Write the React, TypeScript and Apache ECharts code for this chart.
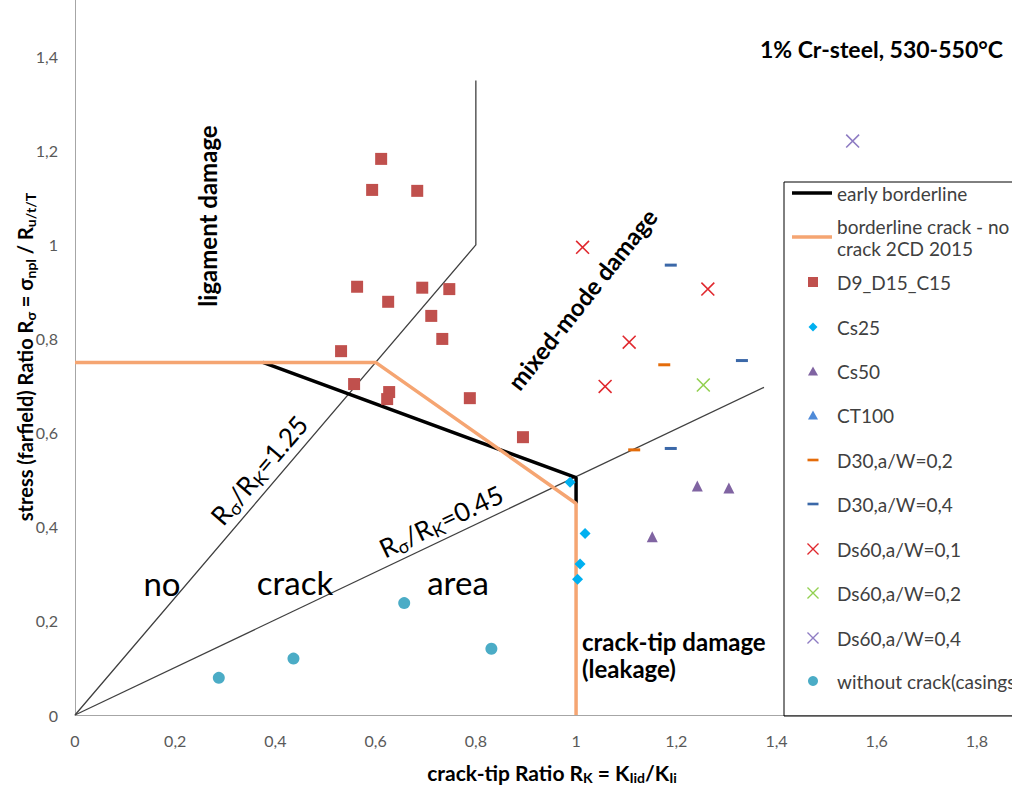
import React, { useEffect, useRef } from "react";
import * as echarts from "echarts";

// ---------------- data ----------------
const earlyBorderlineX = [0.375, 1.0, 1.0];
const earlyBorderlineY = [0.75, 0.505, 0.45];
const borderline2015X = [0, 0.6, 1.0, 1.0];
const borderline2015Y = [0.75, 0.75, 0.45, 0];
const ratio125X = [0, 0.8, 0.8];
const ratio125Y = [0, 1.0, 1.35];
const ratio045X = [0, 1.375];
const ratio045Y = [0, 0.697];

const d9X = [0.611, 0.593, 0.683, 0.563, 0.625, 0.693, 0.747, 0.711, 0.733, 0.531, 0.557, 0.627, 0.623, 0.788, 0.894];
const d9Y = [1.183, 1.117, 1.115, 0.911, 0.879, 0.909, 0.906, 0.849, 0.8, 0.774, 0.704, 0.687, 0.672, 0.674, 0.591];
const cs25X = [0.988, 1.018, 1.008, 1.003];
const cs25Y = [0.495, 0.386, 0.321, 0.289];
const cs50X = [1.242, 1.305, 1.152];
const cs50Y = [0.487, 0.483, 0.379];
const ct100X: number[] = [];
const ct100Y: number[] = [];
const d30w02X = [1.176, 1.116];
const d30w02Y = [0.745, 0.564];
const d30w04X = [1.189, 1.331, 1.189];
const d30w04Y = [0.957, 0.754, 0.567];
const ds60w01X = [1.013, 1.263, 1.106, 1.058];
const ds60w01Y = [0.995, 0.906, 0.793, 0.699];
const ds60w02X = [1.254];
const ds60w02Y = [0.702];
const ds60w04X = [1.552];
const ds60w04Y = [1.221];
const casingX = [0.287, 0.436, 0.657, 0.831];
const casingY = [0.079, 0.12, 0.238, 0.141];

const seriesNames = [
  "early borderline",
  "borderline crack - no crack 2CD 2015",
  "D9_D15_C15",
  "Cs25",
  "Cs50",
  "CT100",
  "D30,a/W=0,2",
  "D30,a/W=0,4",
  "Ds60,a/W=0,1",
  "Ds60,a/W=0,2",
  "Ds60,a/W=0,4",
  "without crack(casings)",
];

const X_MIN = 0;
const X_MAX = 1.87;
const Y_MIN = 0;
const Y_MAX = 1.521;
const TICK_STEP = 0.2;

// ---------------- styling ----------------
const FONT = "Lato, 'Noto Sans', sans-serif";
const DASH = "path://M0,0H10V2.4H0Z";
const CROSS =
  "path://M0,0.8L0.8,0L10,9.2L9.2,10Z M0.8,10L0,9.2L9.2,0L10,0.8Z";

const zip = (xs: number[], ys: number[]) => xs.map((x, i) => [x, ys[i]]);
const fmt = (v: number) => String(Math.round(v * 10) / 10).replace(".", ",");

type ScatterDef = {
  name: string;
  xs: number[];
  ys: number[];
  symbol: string;
  size: number | number[];
  color: string;
  legendW: number;
  legendH: number;
};

const scatterDefs: ScatterDef[] = [
  { name: seriesNames[2], xs: d9X, ys: d9Y, symbol: "rect", size: 12, color: "#C0504D", legendW: 10, legendH: 10 },
  { name: seriesNames[3], xs: cs25X, ys: cs25Y, symbol: "diamond", size: 11, color: "#00B0F0", legendW: 9, legendH: 9 },
  { name: seriesNames[4], xs: cs50X, ys: cs50Y, symbol: "triangle", size: 11, color: "#8064A2", legendW: 10, legendH: 9 },
  { name: seriesNames[5], xs: ct100X, ys: ct100Y, symbol: "triangle", size: 11, color: "#4E8AD8", legendW: 10, legendH: 9 },
  { name: seriesNames[6], xs: d30w02X, ys: d30w02Y, symbol: DASH, size: [12, 3], color: "#E46C0A", legendW: 11, legendH: 3 },
  { name: seriesNames[7], xs: d30w04X, ys: d30w04Y, symbol: DASH, size: [12, 3], color: "#3B68A8", legendW: 11, legendH: 3 },
  { name: seriesNames[8], xs: ds60w01X, ys: ds60w01Y, symbol: CROSS, size: 14, color: "#E0282E", legendW: 12, legendH: 12 },
  { name: seriesNames[9], xs: ds60w02X, ys: ds60w02Y, symbol: CROSS, size: 14, color: "#92D050", legendW: 12, legendH: 12 },
  { name: seriesNames[10], xs: ds60w04X, ys: ds60w04Y, symbol: CROSS, size: 14, color: "#8E7CC3", legendW: 12, legendH: 12 },
  { name: seriesNames[11], xs: casingX, ys: casingY, symbol: "circle", size: 12, color: "#4BACC6", legendW: 10, legendH: 10 },
];

const legendCenters = [193, 237, 282, 327, 371, 415, 460, 504, 549, 593, 638, 681];
const LEG_FONT = 19;
const LEG_LH = 22;
const LEG_ICON_CX = 813;
const LEG_TEXT_X = 837;

function buildLegends() {
  const legends: any[] = [];
  // line entries
  [0, 1].forEach((i) => {
    const two = i === 1;
    legends.push({
      data: [{ name: seriesNames[i], icon: "rect" }],
      left: LEG_TEXT_X - 45,
      top: two ? legendCenters[i] - 1.5 * LEG_LH : legendCenters[i] - LEG_LH / 2,
      padding: 0,
      itemWidth: 40,
      itemHeight: 3.5,
      selectedMode: false,
      formatter: two ? () => "borderline crack - no\ncrack 2CD 2015" : (n: string) => n,
      textStyle: {
        fontFamily: FONT,
        fontSize: LEG_FONT,
        lineHeight: LEG_LH,
        color: "#404040",
        padding: two ? [LEG_LH, 0, 0, 0] : 0,
      },
    });
  });
  scatterDefs.forEach((d, k) => {
    const i = k + 2;
    const left = LEG_ICON_CX - d.legendW / 2;
    const textStart = left + d.legendW + 5;
    legends.push({
      data: [{ name: d.name, icon: d.symbol }],
      left,
      top: legendCenters[i] - LEG_LH / 2,
      padding: 0,
      itemWidth: d.legendW,
      itemHeight: d.legendH,
      selectedMode: false,
      textStyle: {
        fontFamily: FONT,
        fontSize: LEG_FONT,
        lineHeight: LEG_LH,
        color: "#404040",
        padding: [0, 0, 0, LEG_TEXT_X - textStart],
      },
    });
  });
  return legends;
}

function richStyle(size: number, bold: boolean) {
  const sub = Math.round(size * 0.68);
  const lh = Math.round(size * 1.25);
  return {
    n: { fontFamily: FONT, fontSize: size, fontWeight: bold ? "bold" : "normal", fill: "#000", lineHeight: lh },
    s: {
      fontFamily: FONT,
      fontSize: sub,
      fontWeight: bold ? "bold" : "normal",
      fill: "#000",
      lineHeight: lh,
      padding: [Math.round(size * 0.5), 0, 0, 0],
    },
  };
}

const deg = (d: number) => (d * Math.PI) / 180;

function buildGraphic() {
  const plain = (text: string, x: number, y: number, size: number, bold: boolean, extra: any = {}) => ({
    type: "text",
    x,
    y,
    rotation: extra.rotation || 0,
    z: 100,
    style: {
      text,
      fontFamily: FONT,
      fontSize: size,
      fontWeight: bold ? "bold" : "normal",
      fill: "#000",
      align: extra.align || "center",
      verticalAlign: "middle",
    },
  });
  const rich = (text: string, x: number, y: number, size: number, bold: boolean, rotation = 0) => ({
    type: "text",
    x,
    y,
    rotation,
    z: 100,
    style: {
      text,
      rich: richStyle(size, bold),
      align: "center",
      verticalAlign: "middle",
    },
  });
  return [
    {
      type: "rect",
      z: 1,
      shape: { x: 784, y: 182, width: 260, height: 534 },
      style: { fill: "rgba(0,0,0,0)", stroke: "#000", lineWidth: 1 },
    },
    plain("1% Cr-steel, 530-550°C", 1003, 49, 23, true, { align: "right" }),
    plain("ligament damage", 207, 216, 24, true, { rotation: Math.PI / 2 }),
    plain("mixed-mode damage", 582, 299, 24, true, { rotation: deg(51.5) }),
    rich("{n|R}{s|σ}{n|/R}{s|K}{n|=1.25}", 259, 470, 26, false, deg(49.5)),
    rich("{n|R}{s|σ}{n|/R}{s|K}{n|=0.45}", 441, 521, 26, false, deg(25.4)),
    plain("no", 162, 583, 33, false),
    plain("crack", 295, 582, 33, false),
    plain("area", 458, 582, 33, false),
    plain("crack-tip damage", 582, 641, 24, true, { align: "left" }),
    plain("(leakage)", 582, 668, 24, true, { align: "left" }),
    rich("{n|crack-tip Ratio R}{s|K}{n| = K}{s|Iid}{n|/K}{s|Ii}", 552, 772, 21, true),
    rich(
      "{n|stress (farfield) Ratio R}{s|σ}{n| = σ}{s|npl}{n| / R}{s|u/t/T}",
      25,
      357,
      20,
      true,
      Math.PI / 2
    ),
  ];
}

function buildOption() {
  const lineSeries = [
    {
      name: seriesNames[0],
      type: "line",
      data: zip(earlyBorderlineX, earlyBorderlineY),
      symbol: "none",
      lineStyle: { color: "#000", width: 3.5 },
      itemStyle: { color: "#000" },
      z: 4,
    },
    {
      name: seriesNames[1],
      type: "line",
      data: zip(borderline2015X, borderline2015Y),
      symbol: "none",
      lineStyle: { color: "#F5A572", width: 3.5 },
      itemStyle: { color: "#F5A572" },
      z: 5,
    },
    {
      name: "ratio 1.25",
      type: "line",
      data: zip(ratio125X, ratio125Y),
      symbol: "none",
      lineStyle: { color: "#404040", width: 1.3 },
      z: 3,
    },
    {
      name: "ratio 0.45",
      type: "line",
      data: zip(ratio045X, ratio045Y),
      symbol: "none",
      lineStyle: { color: "#404040", width: 1.3 },
      z: 3,
    },
  ];
  const scatterSeries = scatterDefs.map((d) => ({
    name: d.name,
    type: "scatter",
    data: zip(d.xs, d.ys),
    symbol: d.symbol,
    symbolSize: d.size,
    itemStyle: { color: d.color, opacity: 1 },
    z: 6,
  }));

  const axisLabel = {
    fontFamily: FONT,
    fontSize: 16,
    color: "#595959",
    margin: 17,
    formatter: (v: number) => fmt(v),
    showMaxLabel: false,
  };

  return {
    animation: false,
    backgroundColor: "#fff",
    grid: { left: 75, top: 0, right: 0, bottom: 72, containLabel: false },
    xAxis: {
      type: "value",
      min: X_MIN,
      max: X_MAX,
      interval: TICK_STEP,
      axisLine: { show: true, onZero: false, lineStyle: { color: "#A6A6A6", width: 1 } },
      axisTick: { show: false },
      splitLine: { show: false },
      axisLabel,
    },
    yAxis: {
      type: "value",
      min: Y_MIN,
      max: Y_MAX,
      interval: TICK_STEP,
      axisLine: { show: true, onZero: false, lineStyle: { color: "#A6A6A6", width: 1 } },
      axisTick: { show: false },
      splitLine: { show: false },
      axisLabel,
    },
    legend: buildLegends(),
    graphic: buildGraphic(),
    series: [...lineSeries, ...scatterSeries],
  };
}

export default function App() {
  const ref = useRef<HTMLDivElement>(null);
  useEffect(() => {
    if (!ref.current) return;
    const chart = echarts.init(ref.current, undefined, { renderer: "svg" });
    chart.setOption(buildOption() as any);
    return () => chart.dispose();
  }, []);
  return (
    <div
      ref={ref}
      style={{ position: "fixed", left: 0, top: 0, width: 1012, height: 787, background: "#fff" }}
    />
  );
}
